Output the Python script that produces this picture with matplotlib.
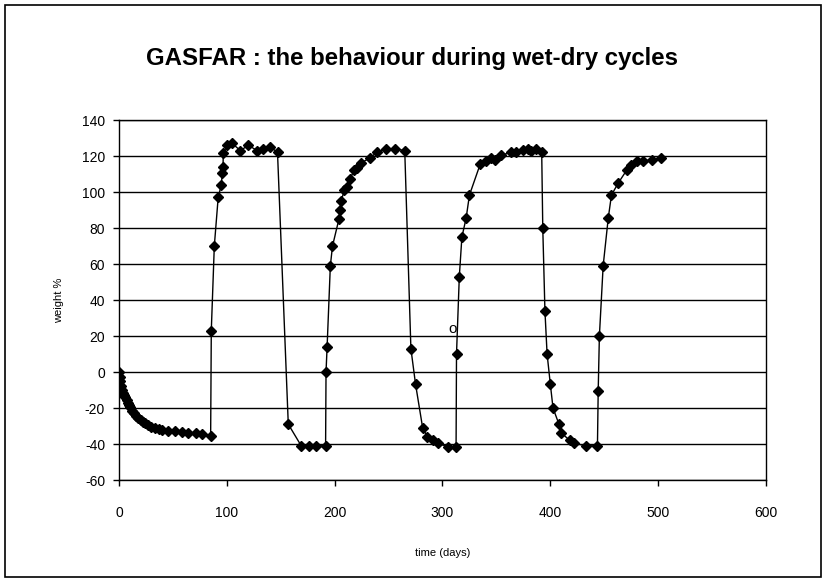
import matplotlib
matplotlib.use("Agg")
import matplotlib.pyplot as plt
from matplotlib.patches import Rectangle

plt.rcParams['font.family'] = ['Liberation Sans', 'DejaVu Sans']
plt.rcParams['axes.unicode_minus'] = False

# time (days) and weight %
dias = [0, 0.5, 1, 2, 3, 4, 5, 6, 7, 8, 9, 10, 12, 14, 16, 18, 20, 22, 24, 27, 30,
        33, 37, 40, 45, 52, 58, 64, 71, 77, 85,
        85.6, 88.4, 92, 94.9, 95.8, 96.5, 96.7, 100.5, 105, 112.6, 120, 128, 134, 140.5, 147,
        157, 169, 176, 183, 191.6,
        192, 193, 196, 198, 204, 205, 206, 209, 211, 214, 218, 220.5, 224, 233, 239, 247.4, 256, 265,
        270.7, 275, 281.6, 286, 291, 295.5, 305, 312.6,
        313, 315.6, 318, 321.9, 325, 335, 340.5, 345, 349, 354.4, 363.7, 368, 374.6, 379, 382, 387, 392,
        393, 395, 397, 400, 402.5, 408, 410, 418, 422, 433.5, 443.7,
        444.4, 445.5, 449, 453.7, 456.7, 463, 470.7, 475, 480, 486, 494, 503]
peso = [0, -3, -5, -8, -10, -11.5, -13, -14, -15.5, -17, -18.5, -19.5, -21.5, -23, -24.5, -25.7, -26.7, -27.6, -28.3, -29.4, -30.3,
        -31.3, -31.8, -32.2, -32.6, -33, -33.2, -33.7, -34, -34.4, -35.5,
        23, 70, 97, 104, 110.5, 114, 121.7, 126, 127, 123, 126, 123, 124, 125, 122,
        -29, -41, -41, -41, -41,
        0, 14, 59, 70, 85, 90, 95, 101, 103, 107, 112, 113.5, 116, 119, 122, 124, 124, 123,
        13, -6.7, -31, -36, -38, -39.6, -41.5, -41.5,
        10, 53, 75, 85.4, 98.3, 115.5, 117, 118.7, 118, 120.5, 122, 122.4, 123.3, 124, 123, 124, 122.4,
        80, 34, 10, -6.7, -20, -29, -33.7, -38, -39.6, -41, -41,
        -10.4, 20, 59, 85.4, 98.3, 105, 112, 115, 117, 117, 118, 119]

fig = plt.figure(figsize=(8.24, 5.8), dpi=100)
ax = fig.add_axes([0.1444, 0.1724, 0.7852, 0.6207])

ax.plot(dias, peso, color='black', linewidth=1, marker='D', markersize=5,
        markerfacecolor='black', markeredgecolor='black')
ax.text(309.5, 24, 'o', fontsize=11, ha='center', va='center')

ax.set_xlim(0, 600)
ax.set_ylim(-60, 140)
ax.set_xticks(range(0, 601, 100))
ax.set_yticks(range(-60, 141, 20))
ax.tick_params(direction='out', length=4, width=1, labelsize=10, colors='black')
ax.tick_params(axis='x', pad=15)
ax.tick_params(axis='y', pad=6)
ax.yaxis.grid(True, color='black', linewidth=1)
ax.set_axisbelow(True)
for s in ax.spines.values():
    s.set_linewidth(1)
    s.set_color('black')

ax.set_xlabel("time (days)", fontsize=8, labelpad=20)
ax.set_ylabel("weight %", fontsize=8, labelpad=13)
fig.text(0.5, 0.9, "GASFAR : the behaviour during wet-dry cycles",
         ha='center', va='center', fontsize=17.3, fontweight='bold')

fig.patches.append(Rectangle((0.006, 0.005), 0.99, 0.987, transform=fig.transFigure,
                             fill=False, edgecolor='black', linewidth=1.2))

fig.savefig("out.png", dpi=100)
